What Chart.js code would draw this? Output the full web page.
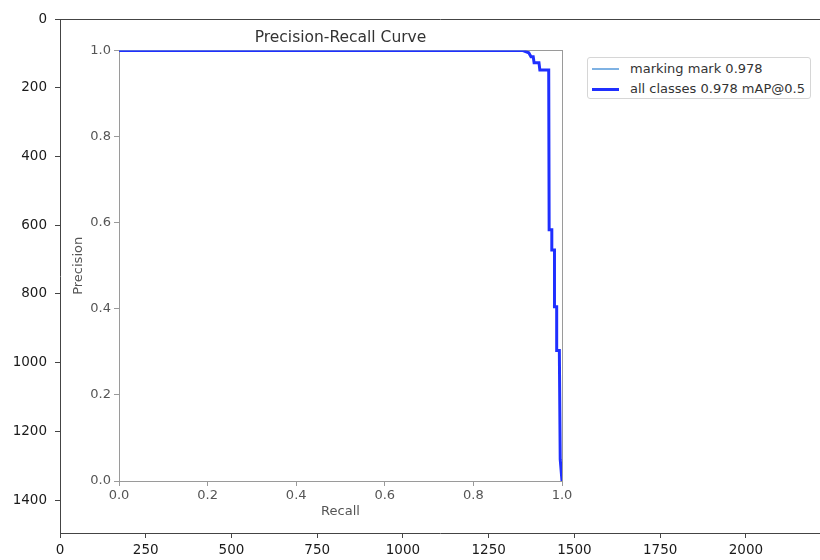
<!DOCTYPE html>
<html>
<head>
<meta charset="utf-8">
<script src="https://cdn.jsdelivr.net/npm/chart.js@4.4.1/dist/chart.umd.min.js"></script>
<style>
html,body{margin:0;padding:0;background:#fff;overflow:hidden;}
#wrap{position:relative;width:820px;height:560px;background:#fff;}
#wrap canvas{position:absolute;left:0;top:0;}
#legend{position:absolute;left:587px;top:57px;width:224px;height:42px;border:1px solid #d6d6d6;border-radius:3px;box-sizing:border-box;font-family:"DejaVu Sans",sans-serif;font-size:13px;color:#333;background:#fff;}
#legend .row{position:absolute;left:0;height:16px;line-height:16px;white-space:nowrap;}
#legend .sw{position:absolute;left:4px;width:27px;}
#legend .lbl{position:absolute;left:42px;top:0;}
</style>
</head>
<body>
<div id="wrap">
  <canvas id="outer" width="820" height="560"></canvas>
  <canvas id="inner" width="820" height="560"></canvas>
  <div id="legend"></div>
</div>
<script>
// ---- Outer (image-pixel) axes ----
const outerXTicks = [0, 250, 500, 750, 1000, 1250, 1500, 1750, 2000];
const outerYTicks = [0, 200, 400, 600, 800, 1000, 1200, 1400];
const outerXMax = 2216;
const outerYMax = 1496;

// ---- Inner PR curve ----
const innerTicks = [0, 0.2, 0.4, 0.6, 0.8, 1.0];
const innerTickLabels = ['0.0', '0.2', '0.4', '0.6', '0.8', '1.0'];
const recall = [0, 0.912, 0.925, 0.930, 0.935, 0.937, 0.948, 0.950, 0.970, 0.971, 0.977, 0.977, 0.983, 0.983, 0.988, 0.988, 0.994, 0.996, 1.0];
const precision = [1, 1, 0.995, 0.986, 0.986, 0.972, 0.972, 0.955, 0.955, 0.584, 0.584, 0.537, 0.537, 0.405, 0.405, 0.303, 0.303, 0.05, 0.0];
const seriesNames = ['marking mark 0.978', 'all classes 0.978 mAP@0.5'];
const seriesColors = ['#7fb2e3', '#1f2fff'];
const seriesWidths = [1.2, 3];

const FONT = 'DejaVu Sans';
const pts = recall.map((r, i) => ({x: r, y: precision[i]}));

new Chart(document.getElementById('outer'), {
  type: 'scatter',
  data: {datasets: []},
  options: {
    responsive: false, animation: false,
    layout: {padding: {top: 19, left: 0, right: 0, bottom: 0}},
    plugins: {legend: {display: false}, tooltip: {enabled: false}},
    scales: {
      x: {
        type: 'linear', position: 'bottom', min: 0, max: outerXMax,
        afterBuildTicks: s => { s.ticks = outerXTicks.map(v => ({value: v})); },
        afterFit: s => { s.height = 27; },
        grid: {display: true, drawOnChartArea: false, drawTicks: true, tickLength: 5, color: '#444'},
        border: {display: true, color: '#444', width: 1},
        ticks: {color: '#1a1a1a', font: {family: FONT, size: 13.5}, padding: 4, maxRotation: 0, autoSkip: false,
                callback: v => String(v)}
      },
      y: {
        type: 'linear', position: 'left', reverse: true, min: 0, max: outerYMax,
        afterBuildTicks: s => { s.ticks = outerYTicks.map(v => ({value: v})); },
        afterFit: s => { s.width = 60; },
        grid: {display: true, drawOnChartArea: false, drawTicks: true, tickLength: 5, color: '#444'},
        border: {display: true, color: '#444', width: 1},
        ticks: {color: '#1a1a1a', font: {family: FONT, size: 13.5}, padding: 8, autoSkip: false,
                callback: v => String(v)}
      },
      xTop: {
        type: 'linear', axis: 'x', position: 'top', min: 0, max: outerXMax,
        afterFit: s => { s.height = 0; },
        grid: {display: false, drawTicks: false},
        border: {display: true, color: '#444', width: 1},
        ticks: {display: false}
      }
    }
  }
});

const innerChart = new Chart(document.getElementById('inner'), {
  type: 'line',
  data: {
    datasets: [
      {label: seriesNames[0], data: pts, borderColor: seriesColors[0], backgroundColor: seriesColors[0], borderWidth: seriesWidths[0], pointRadius: 0, tension: 0, fill: false, order: 1},
      {label: seriesNames[1], data: pts, borderColor: seriesColors[1], backgroundColor: seriesColors[1], borderWidth: seriesWidths[1], pointRadius: 0, tension: 0, fill: false, order: 0}
    ]
  },
  options: {
    responsive: false, animation: false,
    layout: {padding: {top: 29, left: 67, right: 258, bottom: 37}},
    plugins: {
      legend: {display: false}, tooltip: {enabled: false},
      title: {display: true, text: 'Precision-Recall Curve', fullSize: false, color: '#333',
              font: {family: FONT, size: 15.5, weight: 'normal'}, padding: {top: 0, bottom: 3}}
    },
    scales: {
      x: {
        type: 'linear', position: 'bottom', min: 0, max: 1,
        afterBuildTicks: s => { s.ticks = innerTicks.map(v => ({value: v})); },
        afterFit: s => { s.height = 42; },
        grid: {display: true, drawOnChartArea: false, drawTicks: true, tickLength: 5, color: '#9a9a9a'},
        border: {display: true, color: '#9a9a9a', width: 1},
        ticks: {color: '#555', font: {family: FONT, size: 13}, padding: 2, maxRotation: 0, autoSkip: false,
                callback: (v, i) => innerTickLabels[i]},
        title: {display: true, text: 'Recall', color: '#555', font: {family: FONT, size: 13}, padding: {top: 4, bottom: 4}}
      },
      y: {
        type: 'linear', position: 'left', min: 0, max: 1,
        afterBuildTicks: s => { s.ticks = innerTicks.map(v => ({value: v})); },
        afterFit: s => { s.width = 52; },
        grid: {display: true, drawOnChartArea: false, drawTicks: true, tickLength: 5, color: '#9a9a9a'},
        border: {display: true, color: '#9a9a9a', width: 1},
        ticks: {color: '#555', font: {family: FONT, size: 13}, padding: 3, autoSkip: false,
                callback: (v, i) => innerTickLabels[i]},
        title: {display: true, text: 'Precision', color: '#555', font: {family: FONT, size: 13}, padding: {top: 4, bottom: 4}}
      },
      x2: {
        type: 'linear', axis: 'x', position: 'top', min: 0, max: 1,
        afterFit: s => { s.height = 0; },
        grid: {display: false, drawTicks: false},
        border: {display: true, color: '#9a9a9a', width: 1},
        ticks: {display: false}
      },
      y2: {
        type: 'linear', axis: 'y', position: 'right', min: 0, max: 1,
        afterFit: s => { s.width = 0; },
        grid: {display: false, drawTicks: false},
        border: {display: true, color: '#9a9a9a', width: 1},
        ticks: {display: false}
      }
    }
  }
});

// HTML legend built from the chart's datasets
const legend = document.getElementById('legend');
innerChart.data.datasets.forEach((ds, i) => {
  const row = document.createElement('div');
  row.className = 'row';
  row.style.top = (3 + i * 20) + 'px';
  row.style.width = '100%';
  const sw = document.createElement('div');
  sw.className = 'sw';
  sw.style.height = ds.borderWidth + 'px';
  sw.style.top = (8 - ds.borderWidth / 2) + 'px';
  sw.style.background = ds.borderColor;
  const lbl = document.createElement('span');
  lbl.className = 'lbl';
  lbl.textContent = ds.label;
  row.appendChild(sw);
  row.appendChild(lbl);
  legend.appendChild(row);
});
</script>
</body>
</html>
